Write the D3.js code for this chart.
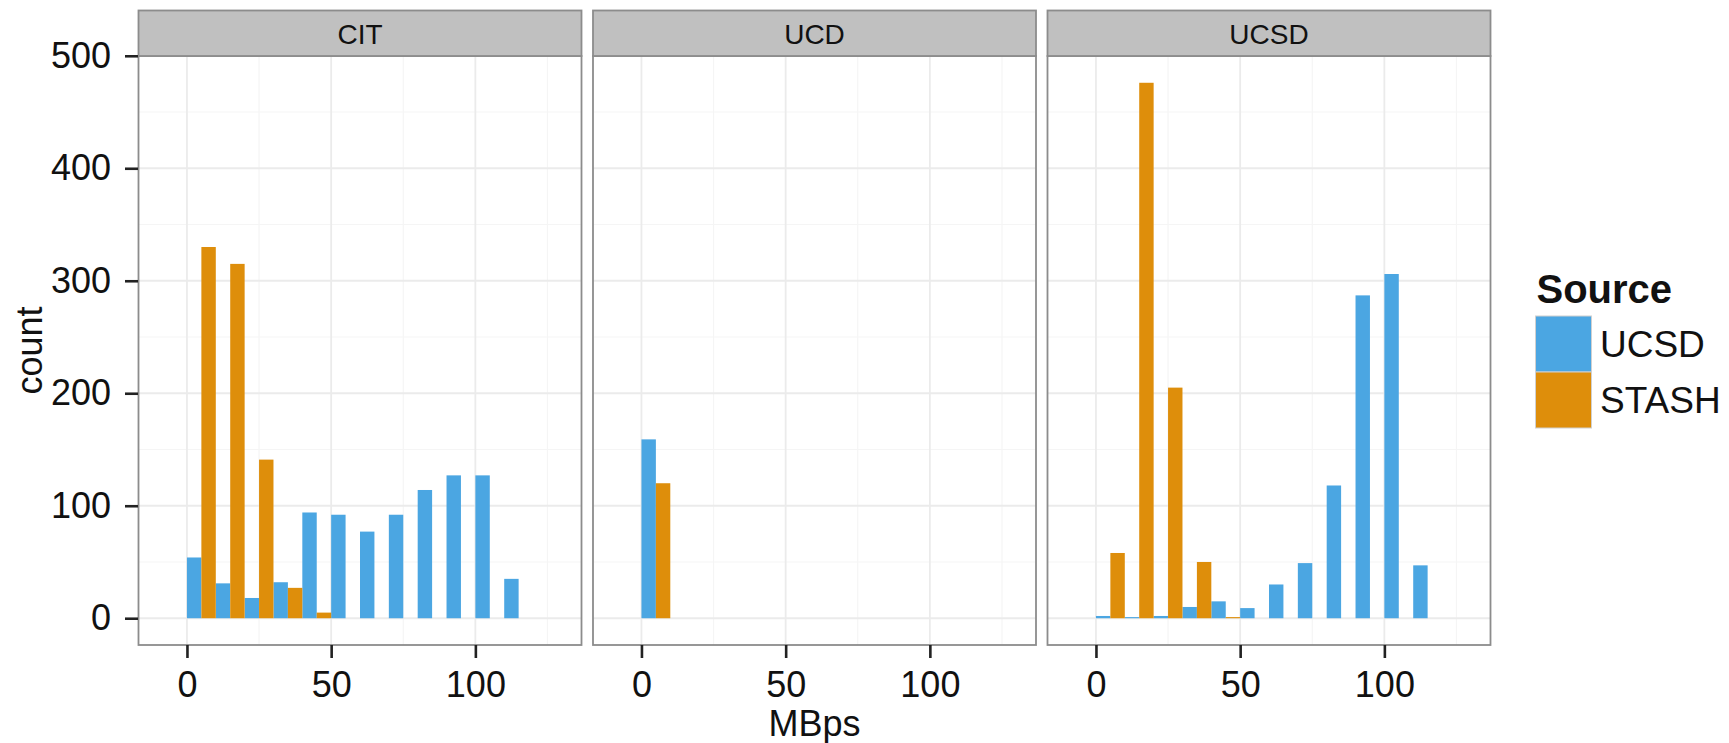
<!DOCTYPE html>
<html>
<head>
<meta charset="utf-8">
<script src="https://cdn.jsdelivr.net/npm/d3@7"></script>
<style>
  body { margin: 0; background: #fff; }
  svg text { font-family: 'Liberation Sans', Arial, Helvetica, sans-serif; fill: #111; }
</style>
</head>
<body>
<svg id="chart" width="1729" height="743"></svg>
<script>
// facets and fill groups
const facets = ['CIT', 'UCD', 'UCSD'];
const sources = ['UCSD', 'STASH'];
const sourceColors = ['#4BA6E2', '#DE8E0B'];

// histogram bins (binwidth 10 MBps), counts read per bin
const binStarts = [0, 10, 20, 30, 40, 50, 60, 70, 80, 90, 100, 110];
const binWidth = 10;

const citUcsd   = [54, 31, 18, 32, 94, 92, 77, 92, 114, 127, 127, 35];
const citStash  = [330, 315, 141, 27, 5, 0, 0, 0, 0, 0, 0, 0];
const ucdUcsd   = [159, 0, 0, 0, 0, 0, 0, 0, 0, 0, 0, 0];
const ucdStash  = [120, 0, 0, 0, 0, 0, 0, 0, 0, 0, 0, 0];
const ucsdUcsd  = [2, 1, 2, 10, 15, 9, 30, 49, 118, 287, 306, 47];
const ucsdStash = [58, 476, 205, 50, 1, 0, 0, 0, 0, 0, 0, 0];

const xTicks = [0, 50, 100];
const xMinor = [25, 75, 125];
const yTicks = [0, 100, 200, 300, 400, 500];
const yMinor = [50, 150, 250, 350, 450];

const counts = {
  CIT: [citUcsd, citStash],
  UCD: [ucdUcsd, ucdStash],
  UCSD: [ucsdUcsd, ucsdStash]
};

// layout
const panelLeft0 = 138.5, panelStep = 454.5, panelW = 443;
const stripTop = 10.5, panelTop = 56, panelBottom = 645;
const tickLen = 13;

const svg = d3.select('#chart');

const maxCount = d3.max(Object.values(counts).flat(2));
const x = d3.scaleLinear().domain([-16.8, 136.8]).range([0, panelW]);
const y = d3.scaleLinear()
  .domain([-0.05 * maxCount, maxCount * 1.05])
  .range([panelBottom, panelTop]);

facets.forEach((facet, fi) => {
  const g = svg.append('g')
    .attr('transform', `translate(${panelLeft0 + fi * panelStep},0)`);

  g.append('rect')
    .attr('x', 0).attr('y', panelTop)
    .attr('width', panelW).attr('height', panelBottom - panelTop)
    .attr('fill', '#fff');

  // minor grid
  g.selectAll('line.xminor').data(xMinor).enter().append('line')
    .attr('x1', d => x(d)).attr('x2', d => x(d))
    .attr('y1', panelTop).attr('y2', panelBottom)
    .attr('stroke', '#F5F5F5').attr('stroke-width', 1.2);
  g.selectAll('line.yminor').data(yMinor).enter().append('line')
    .attr('x1', 0).attr('x2', panelW)
    .attr('y1', d => y(d)).attr('y2', d => y(d))
    .attr('stroke', '#F5F5F5').attr('stroke-width', 1.2);

  // major grid
  g.selectAll('line.xmajor').data(xTicks).enter().append('line')
    .attr('x1', d => x(d)).attr('x2', d => x(d))
    .attr('y1', panelTop).attr('y2', panelBottom)
    .attr('stroke', '#EBEBEB').attr('stroke-width', 1.8);
  g.selectAll('line.ymajor').data(yTicks).enter().append('line')
    .attr('x1', 0).attr('x2', panelW)
    .attr('y1', d => y(d)).attr('y2', d => y(d))
    .attr('stroke', '#EBEBEB').attr('stroke-width', 1.8);

  // dodged bars
  sources.forEach((src, si) => {
    const vals = counts[facet][si];
    const half = binWidth / 2;
    g.selectAll(null).data(binStarts).enter().append('rect')
      .attr('x', d => x(d + si * half))
      .attr('width', d => x(d + (si + 1) * half) - x(d + si * half))
      .attr('y', (d, i) => y(vals[i]))
      .attr('height', (d, i) => y(0) - y(vals[i]))
      .attr('fill', sourceColors[si]);
  });

  // panel border
  g.append('rect')
    .attr('x', 0).attr('y', panelTop)
    .attr('width', panelW).attr('height', panelBottom - panelTop)
    .attr('fill', 'none').attr('stroke', '#8C8C8C').attr('stroke-width', 1.8);

  // strip
  g.append('rect')
    .attr('x', 0).attr('y', stripTop)
    .attr('width', panelW).attr('height', panelTop - stripTop)
    .attr('fill', '#C0C0C0').attr('stroke', '#8C8C8C').attr('stroke-width', 1.8);
  g.append('text')
    .attr('x', panelW / 2).attr('y', 43.5)
    .attr('text-anchor', 'middle')
    .style('font-size', '28px')
    .text(facet);

  // x axis
  const xAxis = g.append('g')
    .attr('transform', `translate(0,${panelBottom})`)
    .call(d3.axisBottom(x).tickValues(xTicks).tickSize(tickLen).tickPadding(13.5));
  xAxis.select('.domain').remove();
  xAxis.selectAll('line').attr('stroke', '#222').attr('stroke-width', 2.6);
  xAxis.selectAll('text').style('font-size', '36px').attr('fill', '#111');
});

// y axis (left panel only)
const yAxis = svg.append('g')
  .attr('transform', `translate(${panelLeft0 - 0.5},0)`)
  .call(d3.axisLeft(y).tickValues(yTicks).tickSize(tickLen).tickPadding(14));
yAxis.select('.domain').remove();
yAxis.selectAll('line').attr('stroke', '#222').attr('stroke-width', 2.6);
yAxis.selectAll('text').style('font-size', '36px').attr('fill', '#111');

// axis titles
svg.append('text')
  .attr('x', panelLeft0 + (panelStep * 2 + panelW) / 2).attr('y', 736)
  .attr('text-anchor', 'middle')
  .style('font-size', '36px')
  .text('MBps');

svg.append('text')
  .attr('transform', `translate(42,${(panelTop + panelBottom) / 2}) rotate(-90)`)
  .attr('text-anchor', 'middle')
  .style('font-size', '36px')
  .text('count');

// legend
const legend = svg.append('g').attr('transform', 'translate(1535.5,0)');
legend.append('text')
  .attr('x', 1).attr('y', 303)
  .style('font-size', '40px').style('font-weight', 'bold')
  .text('Source');

const keySize = 56;
sources.forEach((src, si) => {
  const ky = 316 + si * keySize;
  legend.append('rect')
    .attr('x', 0).attr('y', ky)
    .attr('width', keySize).attr('height', keySize)
    .attr('fill', sourceColors[si])
    .attr('stroke', '#D0D0D0').attr('stroke-width', 1);
  legend.append('text')
    .attr('x', keySize + 8.5).attr('y', ky + keySize / 2)
    .attr('dy', '0.35em')
    .style('font-size', '37px')
    .text(src);
});
</script>
</body>
</html>
